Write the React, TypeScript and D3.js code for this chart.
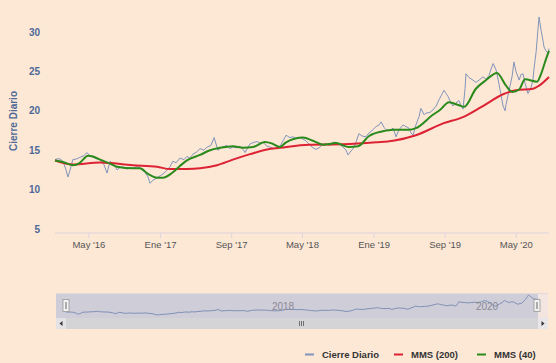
import React from 'react';
import * as d3 from 'd3';

// daily close (approx)
const closeSeries: [string, number][] = [
  ['2016-01-06', 13.8], ['2016-01-13', 13.9], ['2016-01-23', 13.9], ['2016-02-02', 13.6], ['2016-02-12', 12.6],
  ['2016-02-19', 11.6], ['2016-02-26', 12.4], ['2016-03-07', 13.8], ['2016-03-21', 13.9], ['2016-03-31', 14.1],
  ['2016-04-14', 14.3], ['2016-04-24', 14.7], ['2016-05-04', 14.3], ['2016-05-15', 14.1], ['2016-05-28', 13.9],
  ['2016-06-08', 13.8], ['2016-06-21', 13.2], ['2016-07-02', 12.1], ['2016-07-12', 13.6], ['2016-07-26', 13.2],
  ['2016-08-05', 12.5], ['2016-08-15', 12.8], ['2016-08-25', 12.9], ['2016-09-08', 12.6], ['2016-09-18', 12.8],
  ['2016-09-28', 12.7], ['2016-10-12', 12.9], ['2016-10-22', 12.8], ['2016-11-02', 12.4], ['2016-11-09', 12.2],
  ['2016-11-19', 11.6], ['2016-11-26', 10.8], ['2016-12-06', 11.2], ['2016-12-16', 11.4], ['2016-12-23', 11.6],
  ['2017-01-02', 11.8], ['2017-01-09', 12.0], ['2017-01-19', 12.3], ['2017-02-02', 12.9], ['2017-02-12', 13.6],
  ['2017-02-23', 13.4], ['2017-03-08', 14.0], ['2017-03-22', 13.8], ['2017-04-01', 14.2], ['2017-04-11', 14.0],
  ['2017-04-22', 14.5], ['2017-05-05', 14.8], ['2017-05-16', 15.2], ['2017-05-29', 15.0], ['2017-06-09', 15.4],
  ['2017-06-22', 15.6], ['2017-07-03', 16.6], ['2017-07-16', 15.0], ['2017-07-30', 15.4], ['2017-08-16', 15.6],
  ['2017-08-26', 15.2], ['2017-09-05', 15.4], ['2017-09-19', 15.3], ['2017-09-29', 15.5], ['2017-10-10', 15.1],
  ['2017-10-17', 14.7], ['2017-10-27', 15.4], ['2017-11-03', 15.8], ['2017-11-16', 16.0], ['2017-11-27', 16.1],
  ['2017-12-07', 15.9], ['2017-12-17', 16.0], ['2017-12-31', 15.5], ['2018-01-10', 15.4], ['2018-01-24', 15.2],
  ['2018-02-03', 15.3], ['2018-02-13', 15.5], ['2018-02-24', 16.2], ['2018-03-06', 16.9], ['2018-03-19', 16.6],
  ['2018-03-30', 16.7], ['2018-04-09', 16.5], ['2018-04-23', 16.6], ['2018-05-03', 16.4], ['2018-05-13', 16.2],
  ['2018-05-23', 15.8], ['2018-06-03', 15.4], ['2018-06-16', 15.1], ['2018-06-27', 15.3], ['2018-07-07', 15.7],
  ['2018-07-21', 15.8], ['2018-08-03', 15.6], ['2018-08-13', 16.0], ['2018-08-24', 16.0], ['2018-09-06', 15.7],
  ['2018-09-17', 15.4], ['2018-09-27', 15.0], ['2018-10-04', 14.4], ['2018-10-14', 14.9], ['2018-10-21', 15.2],
  ['2018-10-31', 16.0], ['2018-11-10', 17.1], ['2018-11-21', 16.8], ['2018-12-04', 16.7], ['2018-12-15', 17.2],
  ['2018-12-25', 17.5], ['2019-01-08', 18.0], ['2019-01-18', 18.2], ['2019-01-25', 18.6], ['2019-02-04', 17.9],
  ['2019-02-11', 17.6], ['2019-02-24', 17.5], ['2019-03-07', 17.8], ['2019-03-17', 16.7], ['2019-03-27', 17.6],
  ['2019-04-10', 18.2], ['2019-04-20', 18.0], ['2019-04-30', 17.8], ['2019-05-07', 17.2], ['2019-05-14', 16.9],
  ['2019-05-24', 18.2], ['2019-06-04', 19.3], ['2019-06-10', 20.3], ['2019-06-21', 19.5], ['2019-06-27', 19.7],
  ['2019-07-11', 19.8], ['2019-07-21', 20.1], ['2019-08-01', 20.6], ['2019-08-11', 21.4], ['2019-08-21', 22.1],
  ['2019-08-28', 22.6], ['2019-09-04', 22.2], ['2019-09-11', 21.8], ['2019-09-21', 21.0], ['2019-09-28', 20.6],
  ['2019-10-08', 21.0], ['2019-10-18', 21.3], ['2019-10-25', 20.7], ['2019-11-01', 20.2], ['2019-11-08', 22.8],
  ['2019-11-11', 24.7], ['2019-11-22', 24.2], ['2019-12-05', 23.9], ['2019-12-15', 23.6], ['2019-12-26', 23.9],
  ['2020-01-08', 24.3], ['2020-01-19', 24.0], ['2020-01-29', 24.5], ['2020-02-05', 25.3], ['2020-02-12', 26.0],
  ['2020-02-22', 25.2], ['2020-03-03', 23.4], ['2020-03-10', 22.0], ['2020-03-17', 20.6], ['2020-03-24', 20.0],
  ['2020-03-27', 20.8], ['2020-04-06', 22.5], ['2020-04-17', 24.4], ['2020-04-23', 26.2], ['2020-04-30', 25.0],
  ['2020-05-11', 23.9], ['2020-05-17', 24.6], ['2020-05-24', 24.7], ['2020-05-31', 23.5], ['2020-06-10', 22.2],
  ['2020-06-21', 23.0], ['2020-06-27', 23.9], ['2020-07-01', 25.4], ['2020-07-08', 27.5], ['2020-07-14', 30.2],
  ['2020-07-18', 31.9], ['2020-07-25', 30.2], ['2020-08-01', 28.8], ['2020-08-04', 28.1], ['2020-08-11', 27.6],
  ['2020-08-18', 27.3], ['2020-08-21', 27.9],
];

const ma200Series: [string, number][] = [
  ['2016-01-06', 13.7], ['2016-03-07', 13.2], ['2016-06-08', 13.45], ['2016-09-28', 13.1], ['2016-12-20', 12.9],
  ['2017-02-02', 12.6], ['2017-04-01', 12.6], ['2017-05-16', 12.7], ['2017-07-13', 13.1], ['2017-09-05', 13.8],
  ['2017-11-03', 14.5], ['2017-12-31', 15.1], ['2018-02-13', 15.3], ['2018-05-23', 15.7], ['2018-09-17', 15.75],
  ['2019-01-08', 16.0], ['2019-03-07', 16.2], ['2019-05-24', 16.9], ['2019-08-25', 18.4], ['2019-11-01', 19.2],
  ['2020-01-08', 20.6], ['2020-03-17', 22.1], ['2020-04-30', 22.6], ['2020-06-27', 22.8], ['2020-07-18', 23.2],
  ['2020-08-21', 24.3],
];

const ma40Series: [string, number][] = [
  ['2016-01-06', 13.7], ['2016-02-02', 13.5], ['2016-03-07', 13.1], ['2016-03-31', 13.4], ['2016-04-28', 14.3],
  ['2016-05-15', 14.2], ['2016-06-08', 13.8], ['2016-07-12', 13.3], ['2016-08-05', 12.9], ['2016-09-28', 12.7],
  ['2016-10-22', 12.7], ['2016-11-19', 12.0], ['2016-12-20', 11.5], ['2017-01-09', 11.5], ['2017-02-09', 12.1],
  ['2017-03-08', 13.0], ['2017-04-01', 13.7], ['2017-05-16', 14.4], ['2017-06-19', 15.0], ['2017-07-23', 15.3],
  ['2017-09-05', 15.5], ['2017-10-10', 15.3], ['2017-11-13', 15.4], ['2017-12-24', 16.05], ['2018-01-17', 15.85],
  ['2018-02-13', 15.4], ['2018-03-06', 16.0], ['2018-05-03', 16.6], ['2018-06-06', 16.2], ['2018-07-10', 15.7],
  ['2018-08-24', 15.9], ['2018-10-07', 15.4], ['2018-11-07', 15.5], ['2018-12-15', 16.8], ['2019-01-31', 17.4],
  ['2019-03-07', 17.6], ['2019-04-30', 17.6], ['2019-05-24', 17.8], ['2019-07-21', 19.5], ['2019-08-14', 20.1],
  ['2019-09-14', 21.1], ['2019-10-18', 20.7], ['2019-11-05', 20.5], ['2019-12-15', 22.8], ['2020-01-19', 23.9],
  ['2020-02-25', 24.8], ['2020-03-27', 23.2], ['2020-04-17', 22.4], ['2020-05-11', 22.7], ['2020-05-31', 24.0],
  ['2020-07-11', 23.7], ['2020-07-25', 24.7], ['2020-08-11', 26.6], ['2020-08-21', 27.6],
];

const yTicks = [5, 10, 15, 20, 25, 30];
const xTicks: [string, string][] = [
  ['2016-05-01', "May '16"], ['2017-01-01', "Ene '17"], ['2017-09-01', "Sep '17"], ['2018-05-01', "May '18"],
  ['2019-01-01', "Ene '19"], ['2019-09-01', "Sep '19"], ['2020-05-01', "May '20"],
];
const navTicks: [string, string][] = [['2018-01-01', '2018'], ['2020-01-01', '2020']];
const legendItems = [
  { name: 'Cierre Diario', color: '#8194bb' },
  { name: 'MMS (200)', color: '#dd2233' },
  { name: 'MMS (40)', color: '#2a8a1c' },
];

const W = 556;
const H = 363;
const BG = '#fde8d6';
const font = '"Liberation Sans", Arial, sans-serif';

const parse = d3.timeParse('%Y-%m-%d');
type Pt = { d: Date; v: number };
const toPts = (s: [string, number][]): Pt[] => s.map(([d, v]) => ({ d: parse(d)!, v }));

export default function App() {
  const close = toPts(closeSeries);
  const ma200 = toPts(ma200Series);
  const ma40 = toPts(ma40Series);

  const ext = d3.extent(close, p => p.d) as [Date, Date];
  const x = d3.scaleTime().domain(ext).range([55, 549]);
  const y = d3.scaleLinear().domain([5, 30]).range([229, 32]);

  const lineRaw = d3.line<Pt>().x(p => x(p.d)).y(p => y(p.v));
  const lineSmooth = d3.line<Pt>().x(p => x(p.d)).y(p => y(p.v)).curve(d3.curveMonotoneX);

  // navigator
  const nx = d3.scaleTime().domain(ext).range([66, 538]);
  const vExt = d3.extent(close, p => p.v) as [number, number];
  const ny = d3.scaleLinear().domain(vExt).range([315, 295]);
  const navLine = d3.line<Pt>().x(p => nx(p.d)).y(p => ny(p.v));

  const legendX = [322, 411, 494];

  return (
    <div style={{ position: 'fixed', left: 0, top: 0 }}>
      <svg width={W} height={H} style={{ display: 'block', fontFamily: font }}>
        <rect width={W} height={H} fill={BG} />

        {/* y axis */}
        <text
          transform="translate(17,121) rotate(-90)"
          textAnchor="middle"
          fontSize={10}
          fontWeight="bold"
          fill="#4d6896"
        >
          Cierre Diario
        </text>
        {yTicks.map(t => (
          <text key={t} x={40} y={y(t)} dy="0.35em" textAnchor="end" fontSize={10} fontWeight="bold" fill="#4d6896">
            {t}
          </text>
        ))}

        {/* x axis */}
        <line x1={55} x2={549} y1={233} y2={233} stroke="#dcd3dc" />
        {xTicks.map(([d, lab]) => {
          const px = x(parse(d)!);
          return (
            <g key={d}>
              <line x1={px} x2={px} y1={233} y2={238} stroke="#dcd3dc" />
              <text x={px} y={248} textAnchor="middle" fontSize={9.5} fill="#555">
                {lab}
              </text>
            </g>
          );
        })}

        {/* series */}
        <path d={lineRaw(close)!} fill="none" stroke="#8194bb" strokeWidth={1} />
        <path d={lineSmooth(ma200)!} fill="none" stroke="#dd2233" strokeWidth={2} />
        <path d={lineSmooth(ma40)!} fill="none" stroke="#2a8a1c" strokeWidth={2} />

        {/* navigator */}
        <rect x={56} y={293} width={482} height={25} fill="#cfcdd8" />
        <rect x={538} y={293} width={10} height={25} fill="#f3e6e0" />
        <line x1={56} x2={548} y1={293.5} y2={293.5} stroke="#e3d8da" />
        <path d={navLine(close)!} fill="none" stroke="#8091b6" strokeWidth={1} />
        {navTicks.map(([d, lab]) => (
          <text key={d} x={nx(parse(d)!) + 3} y={310} fontSize={10} fill="#8a8a96">
            {lab}
          </text>
        ))}
        {[66, 537].map(hx => (
          <g key={hx}>
            <rect x={hx - 3} y={299.5} width={6} height={12} fill="#f2f2f2" stroke="#999" strokeWidth={0.8} />
            <line x1={hx - 0.5} x2={hx - 0.5} y1={302} y2={309} stroke="#999" strokeWidth={0.8} />
            <line x1={hx + 0.5} x2={hx + 0.5} y1={302} y2={309} stroke="#999" strokeWidth={0.8} />
          </g>
        ))}

        {/* scrollbar */}
        <rect x={56} y={318} width={492} height={11} fill="#d4d3d6" />
        <rect x={56} y={318} width={10} height={11} fill="#e4e2e4" />
        <rect x={538} y={318} width={10} height={11} fill="#e8e6e8" />
        <path d="M62.5,321 L59.5,323.5 L62.5,326 Z" fill="#333" />
        <path d="M541.5,321 L544.5,323.5 L541.5,326 Z" fill="#333" />
        {[-2, 0, 2].map(o => (
          <line key={o} x1={301.5 + o} x2={301.5 + o} y1={321} y2={326} stroke="#555" strokeWidth={0.8} />
        ))}

        {/* legend */}
        {legendItems.map((it, i) => (
          <g key={it.name}>
            <line x1={legendX[i] - 17} x2={legendX[i] - 8} y1={354.5} y2={354.5} stroke={it.color} strokeWidth={2} />
            <text x={legendX[i]} y={358} fontSize={9.5} fontWeight="bold" fill="#333">
              {it.name}
            </text>
          </g>
        ))}
      </svg>
    </div>
  );
}
